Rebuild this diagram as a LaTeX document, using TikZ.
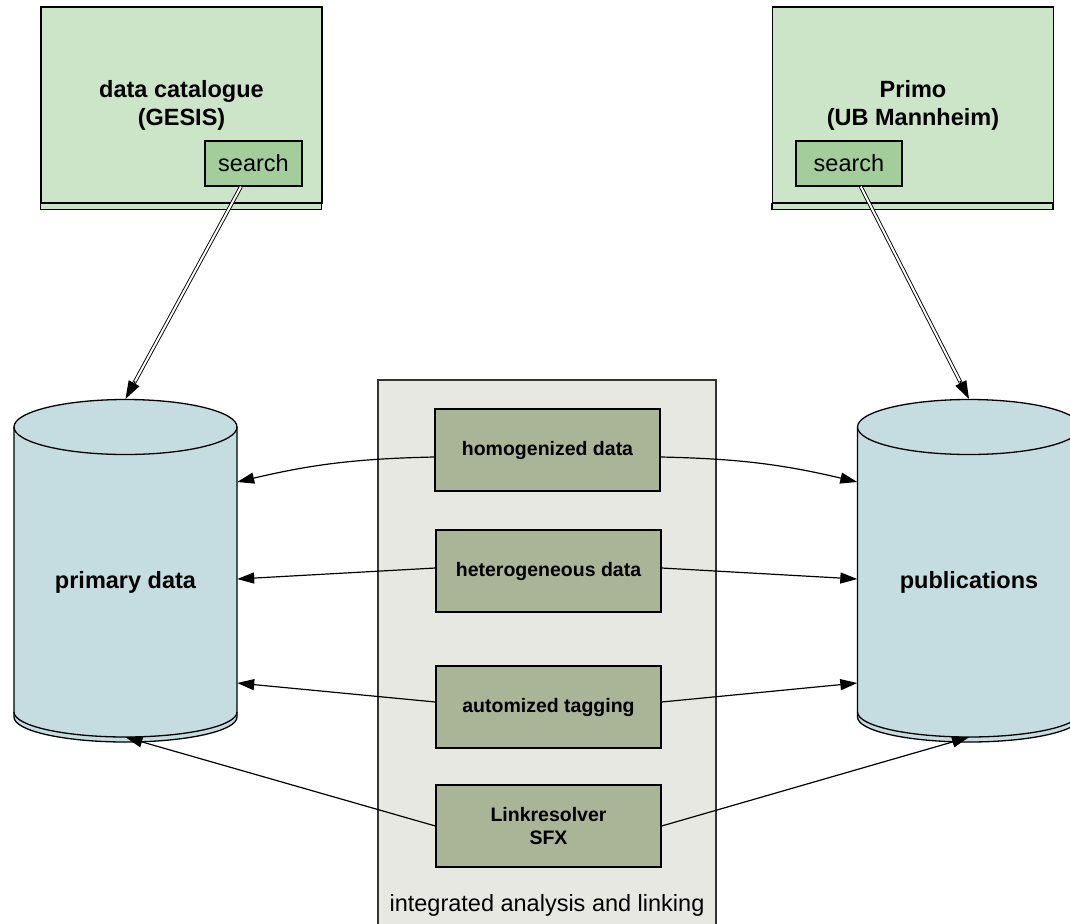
\documentclass[tikz,border=0pt]{standalone}
\usepackage{fontspec}
\setmainfont{Liberation Sans}
\usepackage{xcolor}
\usetikzlibrary{arrows.meta, calc}
\definecolor{catgreen}{RGB}{204,228,199}
\definecolor{searchgreen}{RGB}{163,206,155}
\definecolor{dbblue}{RGB}{197,221,225}
\definecolor{panelgray}{RGB}{232,232,226}
\definecolor{toololive}{RGB}{170,180,150}

\begin{document}
\begin{tikzpicture}[
    x=1pt, y=-1pt,
    every node/.style={font=\fontsize{23.5}{27}\selectfont, align=center, inner sep=0pt},
    catalogue/.style={draw=black, fill=catgreen, line width=1.3pt, minimum width=281pt, minimum height=196pt, font=\bfseries\fontsize{23.5}{28}\selectfont},
    searchbox/.style={draw=black, fill=searchgreen, line width=1.3pt, minimum height=45pt},
    dbline/.style={draw=black, line width=1.3pt},
    dbtext/.style={minimum width=223pt, minimum height=310pt, font=\bfseries\fontsize{23.5}{27}\selectfont},
    panel/.style={draw=black!80, fill=panelgray, line width=1.1pt, minimum width=338pt, minimum height=550pt},
    tool/.style={draw=black, fill=toololive, line width=1.3pt, minimum width=225pt, minimum height=82pt, font=\bfseries\fontsize{19.5}{23}\selectfont},
    arrow/.style={-{Triangle[length=17pt, width=11pt]}, line width=1.2pt},
    dblline/.style={double, double distance=2pt, line width=0.9pt, shorten >=14pt},
    dblhead/.style={-{Triangle[length=18pt, width=12pt]}, line width=1.2pt}
]

    % Page frame
    \useasboundingbox (0,0) rectangle (1070,923);
    \clip (0,0) rectangle (1070,923);

    % Catalogues with search
    \node[catalogue] (gesis) at (181.5,105) {data catalogue\\(GESIS)};
    \draw[fill=catgreen, line width=1.3pt] (gesis.south west) rectangle ++(281,6);
    \node[searchbox, minimum width=97pt] (gsearch) at (253.5,163.5) {search};

    \node[catalogue] (primo) at (913,105) {Primo\\(UB Mannheim)};
    \draw[fill=catgreen, line width=1.3pt] (primo.south west) rectangle ++(281,6);
    \node[searchbox, minimum width=106pt] (psearch) at (849,163.5) {search};

    % Integrated analysis panel
    \node[panel] (panel) at (547,655) {};
    \node (panellabel) at (547,905) {integrated analysis and linking};

    % Primary data store
    \fill[dbblue] (14,427) -- (14,717)
        arc[start angle=180, end angle=360, x radius=111.5pt, y radius=25pt] -- (237,427) -- cycle;
    \draw[dbline] (14,427) -- (14,717)
        arc[start angle=180, end angle=360, x radius=111.5pt, y radius=25pt] -- (237,427);
    \draw[dbline] (14,712) arc[start angle=180, end angle=360, x radius=111.5pt, y radius=25pt];
    \draw[dbline, fill=dbblue] (125.5,427) ellipse[x radius=111.5pt, y radius=27.5pt];
    \node[dbtext] (primary) at (125.5,582) {primary data};
    \coordinate (primtop) at (125.5,399);

    % Publications store
    \fill[dbblue] (857.5,427) -- (857.5,717)
        arc[start angle=180, end angle=360, x radius=111.5pt, y radius=25pt] -- (1080.5,427) -- cycle;
    \draw[dbline] (857.5,427) -- (857.5,717)
        arc[start angle=180, end angle=360, x radius=111.5pt, y radius=25pt] -- (1080.5,427);
    \draw[dbline] (857.5,712) arc[start angle=180, end angle=360, x radius=111.5pt, y radius=25pt];
    \draw[dbline, fill=dbblue] (969,427) ellipse[x radius=111.5pt, y radius=27.5pt];
    \node[dbtext] (pubs) at (969,582) {publications};
    \coordinate (pubtop) at (969,399);

    % Tools
    \node[tool] (homog) at (547.5,450) {homogenized data};
    \node[tool] (hetero) at (548.5,571) {heterogeneous data};
    \node[tool] (autotag) at (548.5,707) {automized tagging};
    \node[tool] (linkres) at (548.5,826) {Linkresolver\\SFX};

    % Search arrows
    \draw[dblline] (gsearch) -- (primtop);
    \draw[dblhead] ($(primtop)!20pt!(gsearch)$) -- (primtop);
    \draw[dblline] (psearch) -- (pubtop);
    \draw[dblhead] ($(pubtop)!20pt!(psearch)$) -- (pubtop);

    % Links to the stores
    \draw[arrow] ([yshift=-7pt]homog.west) to[bend right=6] ([yshift=100pt]primary.east);
    \draw[arrow] ([yshift=-7pt]homog.east) to[bend left=6] ([yshift=100pt]pubs.west);
    \draw[arrow] ([yshift=3pt]hetero.west) -- ([yshift=3pt]primary.east);
    \draw[arrow] ([yshift=3pt]hetero.east) -- ([yshift=3pt]pubs.west);
    \draw[arrow] ([yshift=5pt]autotag.west) -- ([yshift=-101pt]primary.east);
    \draw[arrow] ([yshift=5pt]autotag.east) -- ([yshift=-101pt]pubs.west);
    \draw[arrow] (linkres.west) -- (primary.south);
    \draw[arrow] (linkres.east) -- (pubs.south);

\end{tikzpicture}
\end{document}
